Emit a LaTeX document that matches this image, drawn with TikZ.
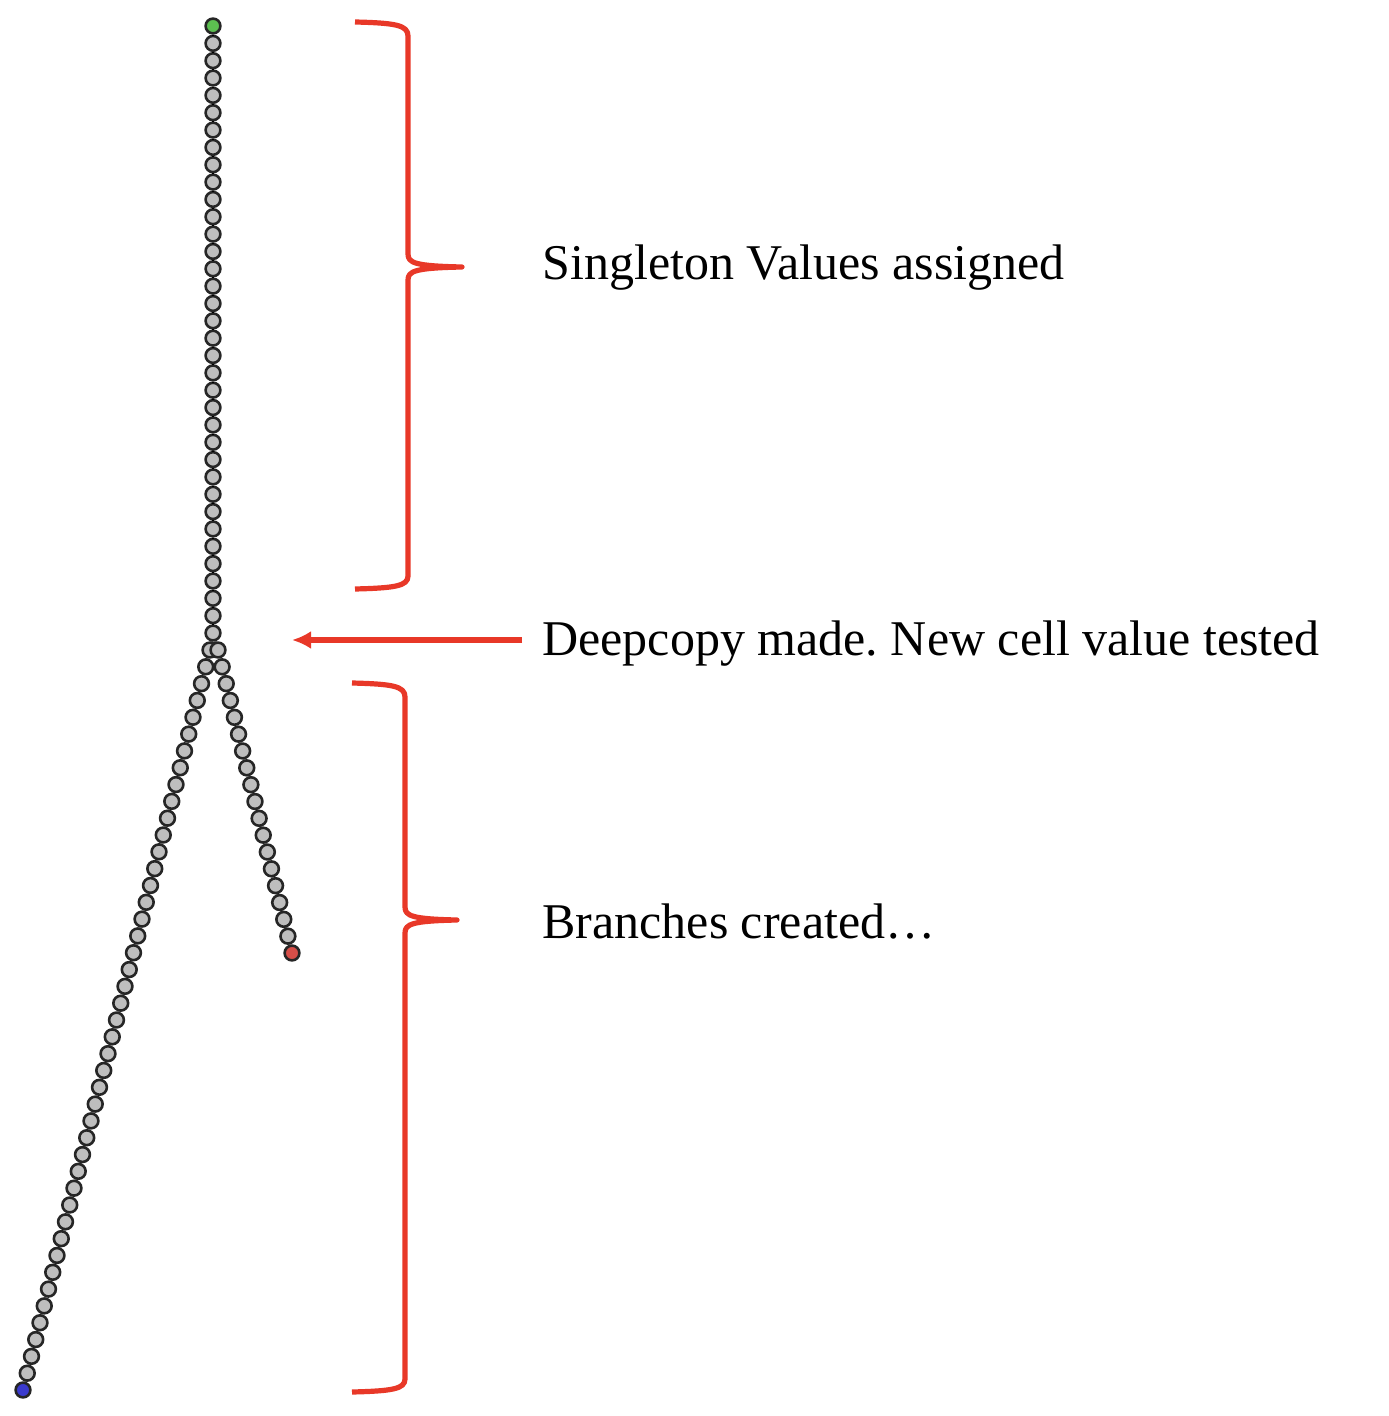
\documentclass[tikz,border=0pt]{standalone}
\usepackage{fontspec}
\setmainfont{Liberation Serif}
\usetikzlibrary{arrows.meta}

\definecolor{bracered}{RGB}{232,56,40}
\definecolor{beadgray}{RGB}{190,190,190}
\definecolor{beadgreen}{RGB}{92,190,80}
\definecolor{beadred}{RGB}{214,78,72}
\definecolor{beadblue}{RGB}{58,58,205}

\tikzset{
  bead/.style={circle, draw=black!85, line width=1.3pt, fill=beadgray,
    minimum size=7.4pt, inner sep=0pt},
  link/.style={line width=1.3pt, black},
  brace line/.style={bracered, line width=2.6pt, line join=round},
  note/.style={font=\fontsize{25}{30}\selectfont, inner sep=0pt, anchor=base west}
}

\begin{document}
\frenchspacing
\begin{tikzpicture}[x=0.5pt,y=-0.5pt]
\useasboundingbox (0,0) rectangle (1388,1416);

% vertical chain
\node[bead, fill=beadgreen] (v0) at (213,26) {};
\foreach \i in {1,...,35}
{
    \node[bead] (v\i) at (213,{26+17.343*\i}) {};
}
\foreach \i [count=\j] in {0,...,34}
    \draw[link] (v\i)--(v\j);

% left branch
\foreach \i in {0,...,43}
{
    \node[bead] (l\i) at ({210-4.25*\i},{650+16.818*\i}) {};
}
\node[bead, fill=beadblue] (l44) at (23,1390) {};
\foreach \i [count=\j] in {0,...,43}
    \draw[link] (l\i)--(l\j);

% right branch
\foreach \i in {0,...,17}
{
    \node[bead] (r\i) at ({218+4.111*\i},{650+16.833*\i}) {};
}
\node[bead, fill=beadred] (r18) at (292,953) {};
\foreach \i [count=\j] in {0,...,17}
    \draw[link] (r\i)--(r\j);

\draw[link] (v35)--(l0);
\draw[link] (v35)--(r0);

% braces
\draw[brace line] (355,22) .. controls (395,23) and (408,25) .. (408,36)
    -- (408,254) .. controls (408,263) and (415,266) .. (462,267)
    .. controls (415,268) and (408,271) .. (408,280)
    -- (408,576) .. controls (408,586) and (395,588) .. (355,589);
\draw[brace line] (352,683) .. controls (392,684) and (405,686) .. (405,697)
    -- (405,907) .. controls (405,916) and (412,919) .. (457,920)
    .. controls (412,921) and (405,924) .. (405,933)
    -- (405,1379) .. controls (405,1389) and (392,1391) .. (352,1392);

% arrow
\coordinate (astart) at (522,640);
\coordinate (aend) at (292,640);
\draw[bracered, line width=2.9pt, -{Latex[length=9.5pt,width=9pt]}] (astart)--(aend);

\node[note] (single) at (542,280) {Singleton Values assigned};
\node[note] (deep) at (542,655) {Deepcopy made. New cell value tested};
\node[note] (branch) at (542,938) {Branches created…};

\end{tikzpicture}
\end{document}
